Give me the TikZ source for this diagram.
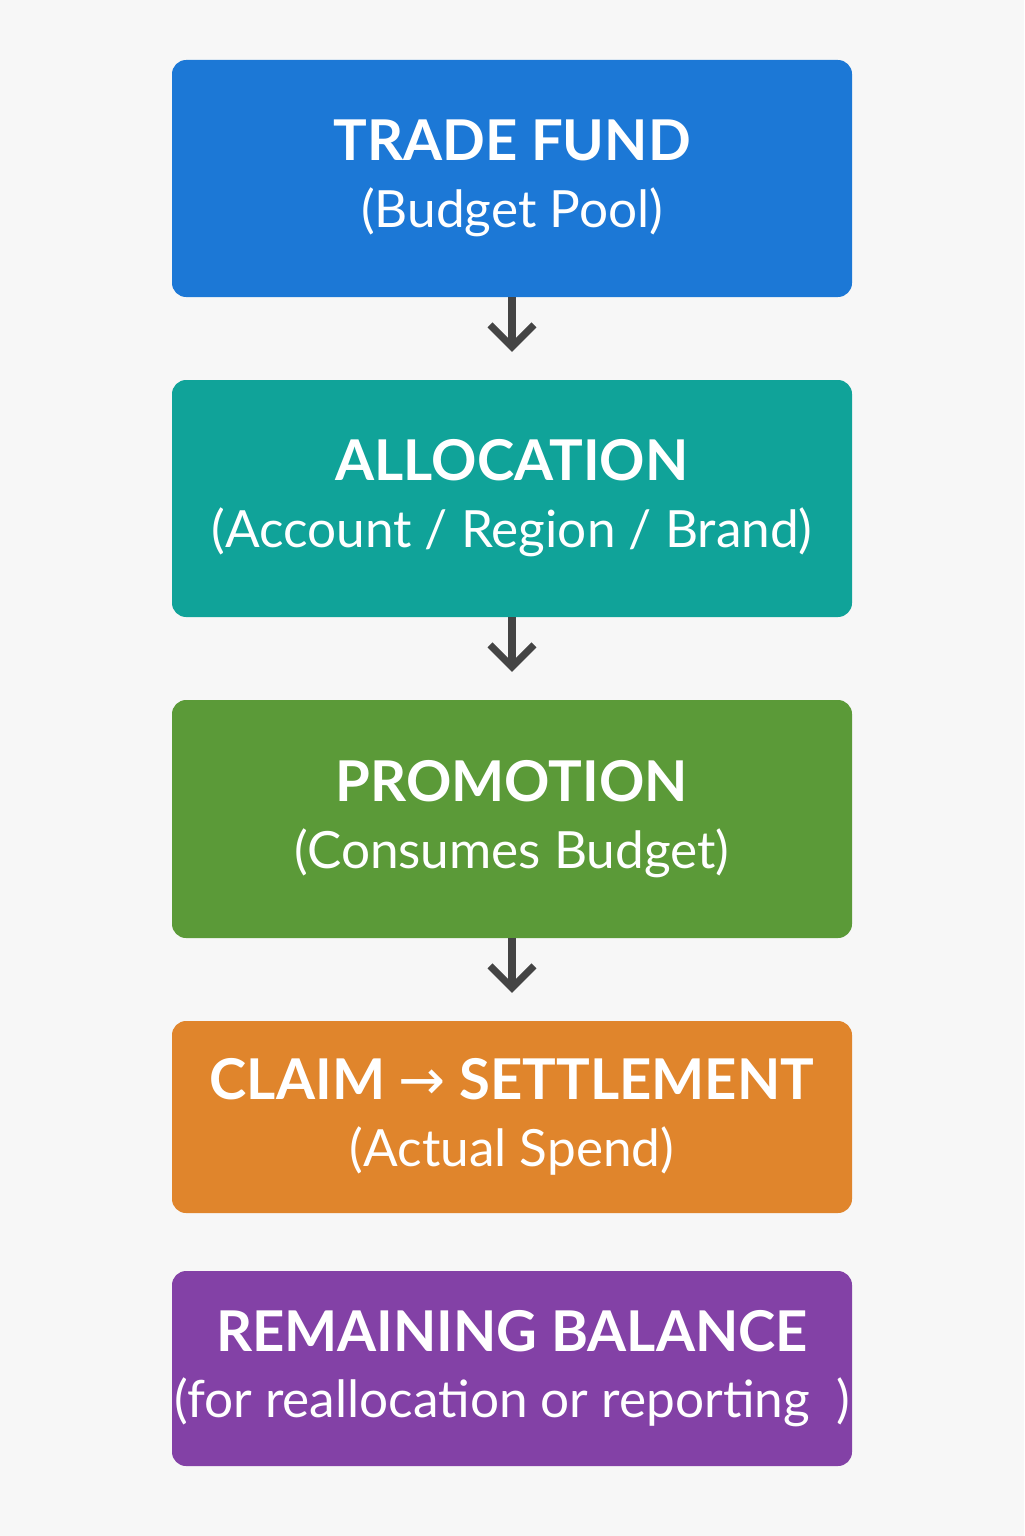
\documentclass[tikz,border=0pt]{standalone}
\usepackage{fontspec}
\setmainfont{Lato}
\newfontfamily\symfont{DejaVu Sans}
\usetikzlibrary{arrows.meta,positioning}
\definecolor{bgcol}{HTML}{F7F7F7}
\definecolor{fundcol}{HTML}{1C78D6}
\definecolor{alloccol}{HTML}{10A399}
\definecolor{promocol}{HTML}{5B9A38}
\definecolor{claimcol}{HTML}{E0852C}
\definecolor{balcol}{HTML}{8341A6}
\definecolor{arrcol}{HTML}{444444}
\newcommand{\boxtext}[2]{{\fontsize{16}{22}\selectfont\bfseries #1}\\[7pt]{\fontsize{14.6}{18}\selectfont #2}}
\begin{document}
\begin{tikzpicture}[node distance=0.83cm, >={Straight Barb[length=2.2mm,width=4.4mm]}, line width=2pt]
        \fill[bgcol] (0,0) rectangle (10.24,-15.36);
        \useasboundingbox (0,0) rectangle (10.24,-15.36);
        \tikzset{stage/.style={rounded corners=4pt, minimum width=6.8cm, text=white, align=center, inner sep=0pt, outer sep=0pt}}
        % Stages
        \node[stage, fill=fundcol, minimum height=2.37cm, anchor=north] (fund) at (5.12,-0.6) {\boxtext{TRADE FUND}{(Budget Pool)}};
        \node[stage, fill=alloccol, minimum height=2.37cm, below=of fund] (alloc) {\boxtext{ALLOCATION}{(Account / Region / Brand)}};
        \node[stage, fill=promocol, minimum height=2.38cm, below=of alloc] (promo) {\boxtext{PROMOTION}{(Consumes Budget)}};
        \node[stage, fill=claimcol, minimum height=1.92cm, below=of promo] (claim) {\boxtext{CLAIM {\symfont\mdseries→} SETTLEMENT}{(Actual Spend)}};
        \node[stage, fill=balcol, minimum height=1.95cm, below=0.58cm of claim] (bal) {\boxtext{REMAINING BALANCE}{(for reallocation or reporting~~)}};

        % Flow arrows
        \draw[->, arrcol] (fund) -- ([yshift=8pt]alloc.north);
        \draw[->, arrcol] (alloc) -- ([yshift=8pt]promo.north);
        \draw[->, arrcol] (promo) -- ([yshift=8pt]claim.north);
    \end{tikzpicture}
\end{document}
